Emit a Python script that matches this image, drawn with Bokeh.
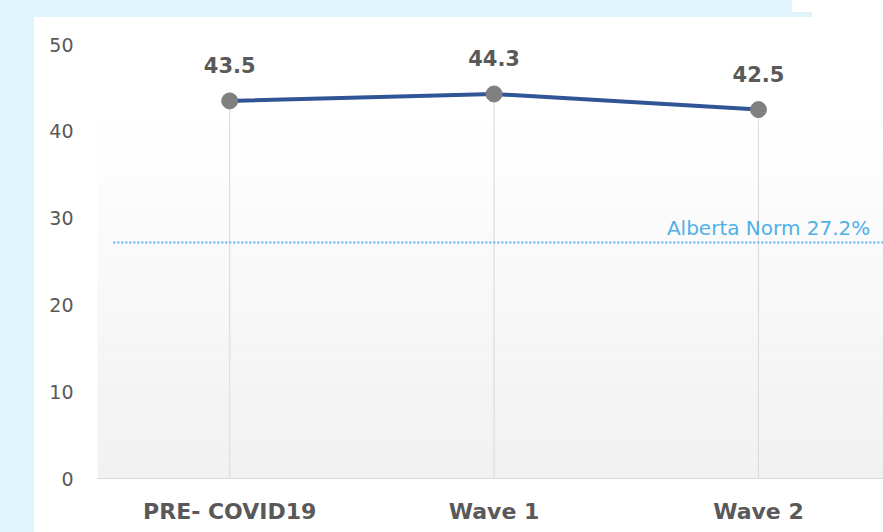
import numpy as np
from bokeh.plotting import figure
from bokeh.models import ColumnDataSource, Range1d, FixedTicker, LabelSet, Label, Spacer
from bokeh.layouts import row, column
from bokeh.core.properties import value
from bokeh.embed import file_html
from bokeh.resources import INLINE

# ---- data ----
categories = ["PRE- COVID19", "Wave 1", "Wave 2"]
values = [43.5, 44.3, 42.5]
value_labels = ["43.5", "44.3", "42.5"]
norm_value = 27.2
norm_label = "Alberta Norm 27.2%"
y_ticks = [0, 10, 20, 30, 40, 50]

# ---- style ----
BG = "#e0f4fc"
TEXT = "#595959"
FONT = "DejaVu Sans"
X_START, X_END = -0.5, 2.473

xs = list(range(len(categories)))

p = figure(width=849, height=515,
           x_range=Range1d(X_START, X_END), y_range=Range1d(0, 50),
           output_backend="svg", toolbar_location=None,
           min_border_left=63, min_border_right=0,
           min_border_top=27, min_border_bottom=54)
p.background_fill_color = "white"
p.border_fill_color = "white"
p.outline_line_color = None
p.xgrid.visible = False
p.ygrid.visible = False

# plot-area gradient (white at top to light gray at bottom)
n = 60
edges = np.linspace(0, 50, n + 1)
mids = (edges[:-1] + edges[1:]) / 2
t = np.clip(mids / 42.0, 0, 1)
cols = []
for v in t:
    c = int(round(241 + (255 - 241) * v))
    cols.append("#%02x%02x%02x" % (c, c, c))
p.quad(left=X_START, right=X_END, bottom=edges[:-1], top=edges[1:],
       fill_color=cols, line_color=cols, line_width=1)

# drop lines
p.segment(x0=xs, y0=[0] * len(xs), x1=xs, y1=values, line_color="#d9d9d9", line_width=1)

# norm line
p.segment(x0=[X_START + 0.06], y0=[norm_value], x1=[X_END], y1=[norm_value],
          line_color="#5ab4e8", line_width=2, line_dash="2 2")
p.add_layout(Label(x=2.423, y=norm_value, text=norm_label, text_align="right",
                   text_baseline="bottom", y_offset=2, text_color="#4fb0e8",
                   text_font=FONT, text_font_size="20px"))

# series
p.line(xs, values, line_color="#2f5597", line_width=4)
p.scatter(xs, values, size=16, fill_color="#808080", line_color="#808080")

src = ColumnDataSource(dict(x=xs, y=values, t=value_labels))
p.add_layout(LabelSet(x="x", y="y", text="t", source=src, text_align="center",
                      text_baseline="middle", y_offset=36, text_color=TEXT,
                      text_font=value(FONT), text_font_style="bold",
                      text_font_size="21px"))

# axes
xa = p.xaxis[0]
xa.ticker = FixedTicker(ticks=xs)
xa.major_label_overrides = {x: c for x, c in zip(xs, categories)}
xa.axis_line_color = "#d9d9d9"
xa.major_tick_line_color = None
xa.minor_tick_line_color = None
xa.major_tick_out = 0
xa.major_tick_in = 0
xa.major_label_standoff = 20
xa.major_label_text_font = FONT
xa.major_label_text_font_style = "bold"
xa.major_label_text_font_size = "22px"
xa.major_label_text_color = TEXT

ya = p.yaxis[0]
ya.ticker = FixedTicker(ticks=y_ticks)
ya.axis_line_color = None
ya.major_tick_line_color = None
ya.minor_tick_line_color = None
ya.major_tick_out = 0
ya.major_tick_in = 0
ya.major_label_standoff = 24
ya.major_label_text_font = FONT
ya.major_label_text_font_size = "19px"
ya.major_label_text_color = TEXT

left = Spacer(width=34, height=532, styles={"background-color": BG})
top = row(Spacer(width=758, height=17, styles={"background-color": BG}),
          Spacer(width=20, height=17, styles={"background": "linear-gradient(to bottom, #ffffff 12px, %s 12px)" % BG}),
          Spacer(width=71, height=17))
layout = row(left, column(top, p))

open("out.html", "w").write(file_html(layout, INLINE))
